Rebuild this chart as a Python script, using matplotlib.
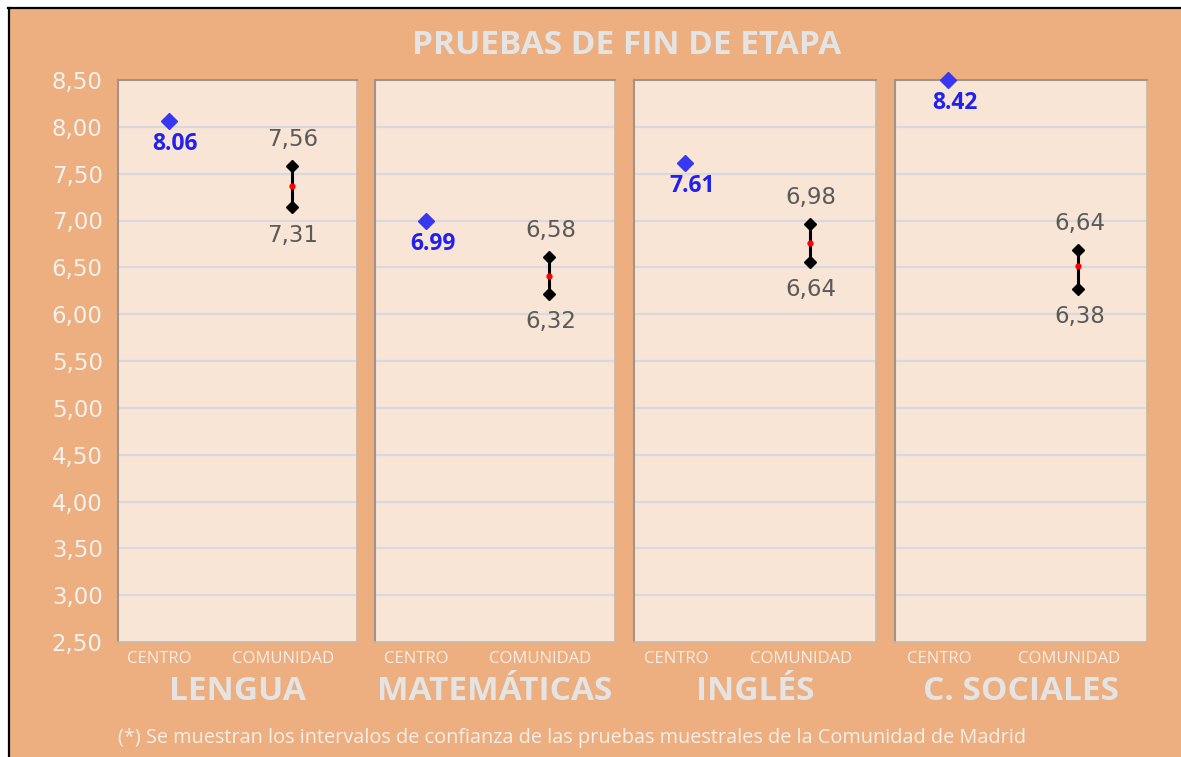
import numpy as np
import matplotlib.pyplot as plt
from matplotlib.patches import Rectangle
from matplotlib.lines import Line2D

# data
subjects = ['LENGUA', 'MATEMÁTICAS', 'INGLÉS', 'C. SOCIALES']
groups = ['CENTRO', 'COMUNIDAD']
centro = [8.06, 6.99, 7.61, 8.50]
centro_labels = ['8.06', '6.99', '7.61', '8.42']
com_high = [7.58, 6.61, 6.96, 6.69]
com_mid = [7.37, 6.41, 6.76, 6.51]
com_low = [7.14, 6.22, 6.56, 6.27]
high_labels = ['7,56', '6,58', '6,98', '6,64']
low_labels = ['7,31', '6,32', '6,64', '6,38']
yticks = np.arange(2.5, 8.51, 0.5)

orange = '#EDAF80'
panel = '#F8E5D6'
grid = '#D8D9DC'
light = '#E4E4E4'
num_font = ['DejaVu Sans']

plt.rcParams['font.family'] = ['Open Sans', 'DejaVu Sans']

fig = plt.figure(figsize=(11.81, 7.57), dpi=100)
fig.patch.set_facecolor('white')

W, H = 1181, 757
# orange background with a black line on top and left
fig.add_artist(Rectangle((9 / W, 0), 1, 1 - 8 / H, transform=fig.transFigure,
                         facecolor=orange, edgecolor='none', zorder=0))
fig.add_artist(Line2D([8 / W, 1], [1 - 7.5 / H] * 2, transform=fig.transFigure, color='black', lw=1.6))
fig.add_artist(Line2D([8.5 / W] * 2, [0, 1 - 7.5 / H], transform=fig.transFigure, color='black', lw=1.6))

# panel pixel extents (left, right)
panels = [(118, 357), (375, 615), (634, 876), (895, 1147)]
top, bottom = 80, 642

for i, (l, r) in enumerate(panels):
    ax = fig.add_axes([l / W, 1 - bottom / H, (r - l) / W, (bottom - top) / H])
    ax.set_facecolor(panel)
    ax.set_xlim(-0.41, 1.53)
    ax.set_ylim(2.5, 8.5)
    for y in yticks[1:-1]:
        ax.axhline(y, color=grid, lw=1.6, zorder=1)
    ax.set_yticks(yticks)
    ax.set_xticks([])
    ax.tick_params(axis='y', length=0, pad=11, labelsize=16.5, labelcolor='#F4F1EE')
    if i == 0:
        ax.set_yticklabels([f'{v:.2f}'.replace('.', ',') for v in yticks], family=num_font)
    else:
        ax.set_yticklabels([])
    for s in ['top', 'left']:
        ax.spines[s].set_color('#A09488')
        ax.spines[s].set_linewidth(1.5)
    for s in ['bottom', 'right']:
        ax.spines[s].set_color('#C9B8A8')
        ax.spines[s].set_linewidth(1.2)

    # centro point
    ax.plot(0, centro[i], marker='D', ms=8, color='#3838F0', ls='none', zorder=5, clip_on=False)
    ax.annotate(centro_labels[i], (0, centro[i]), xytext=(5, -16.5), textcoords='offset points',
                ha='center', va='center', fontsize=16.5, fontweight='bold', color='#2020F0')

    # comunidad interval
    ax.plot([1, 1], [com_low[i], com_high[i]], color='black', lw=2.2, zorder=4)
    ax.plot([1, 1], [com_low[i], com_high[i]], marker='D', ms=6.5, color='black', ls='none', zorder=5)
    ax.plot(1, com_mid[i], marker='o', ms=3.5, color='red', ls='none', zorder=6)
    ax.annotate(high_labels[i], (1, com_high[i]), xytext=(1, 19), textcoords='offset points',
                ha='center', va='center', fontsize=16.5, color='#5A5A5A', family=num_font)
    ax.annotate(low_labels[i], (1, com_low[i]), xytext=(1, -20), textcoords='offset points',
                ha='center', va='center', fontsize=16.5, color='#5A5A5A', family=num_font)

    # category labels under the panel
    for x, g in zip([0, 1], groups):
        ax.annotate(g, (x, 0), xycoords=('data', 'axes fraction'), xytext=(-6.5, -12.5),
                    textcoords='offset points', ha='center', va='center', fontsize=12,
                    color='#F6EEE8', annotation_clip=False)
    ax.text(0.5, -49 / (bottom - top), subjects[i], transform=ax.transAxes, ha='center', va='center',
            fontsize=24, fontweight='bold', color=light)

fig.text(627 / W, 1 - 45 / H, 'PRUEBAS DE FIN DE ETAPA', ha='center', va='center',
         fontsize=24, fontweight='bold', color=light)
fig.text(572 / W, 1 - 738 / H,
         '(*) Se muestran los intervalos de confianza de las pruebas muestrales de la Comunidad de Madrid',
         ha='center', va='center', fontsize=14.3, color='#F4EEE8')

fig.savefig('out.png', dpi=100, facecolor=fig.get_facecolor())
